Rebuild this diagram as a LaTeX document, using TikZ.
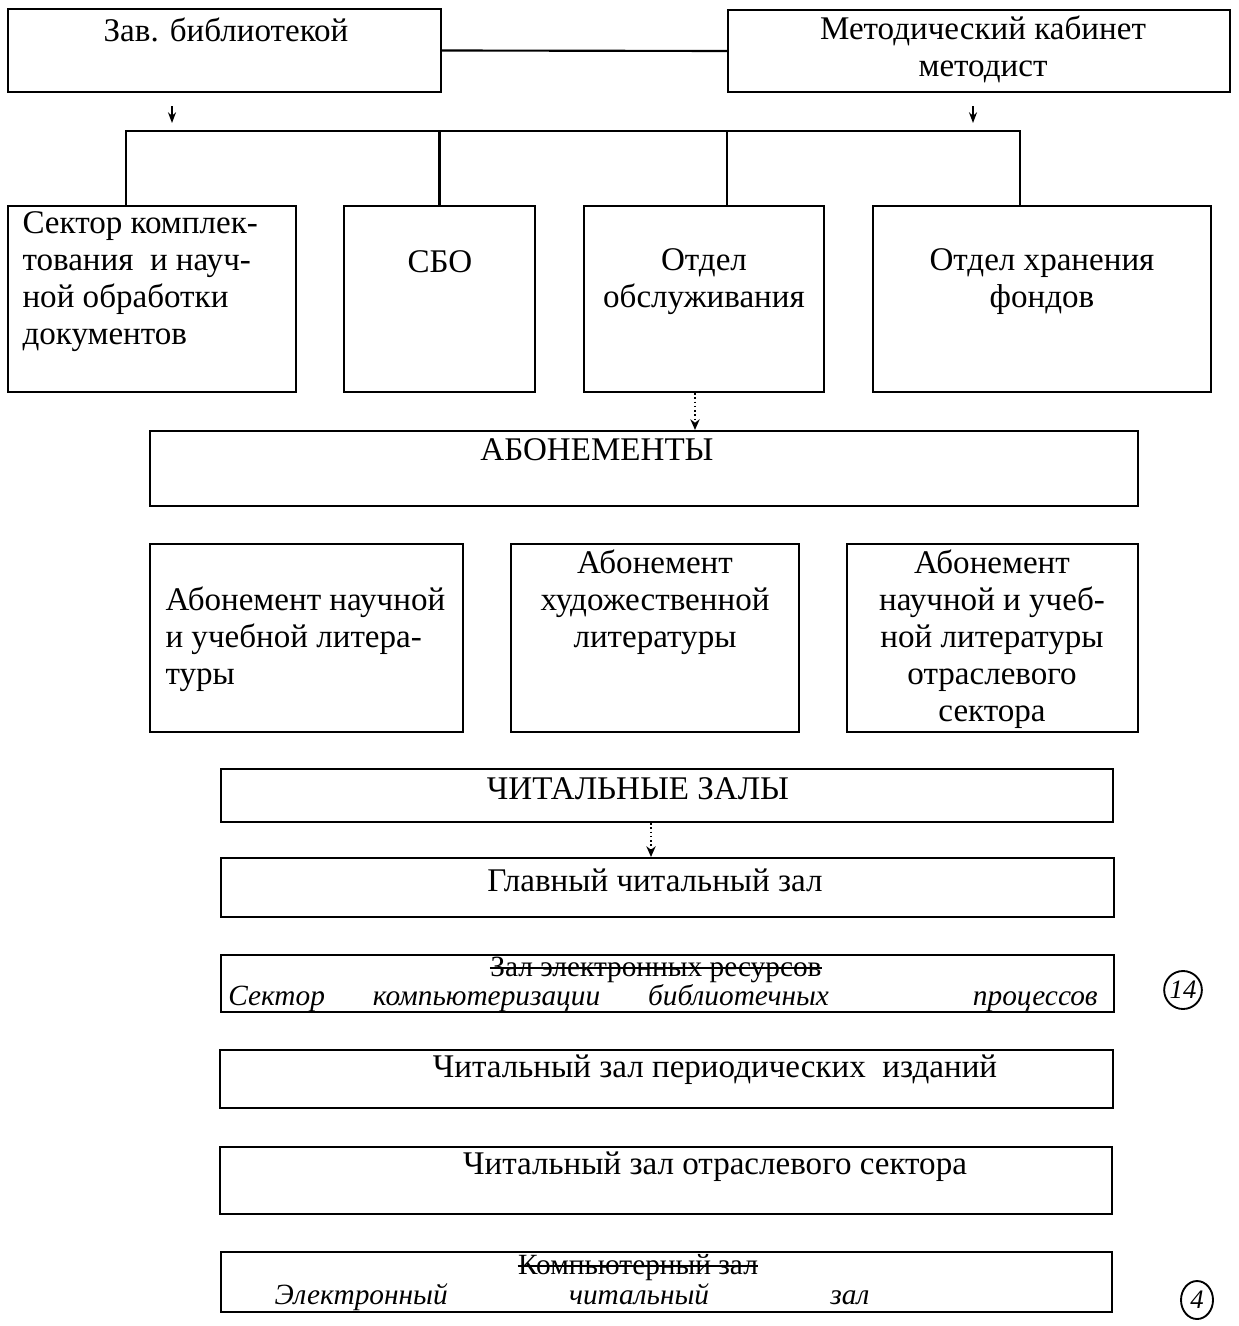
\documentclass[tikz,border=0pt]{standalone}
\usepackage{fontspec}
\setmainfont{Liberation Serif}
\usetikzlibrary{arrows.meta}
\usetikzlibrary{positioning}

\newcommand{\pxu}{0.375pt}

\tikzset{
  unitbox/.style={draw, line width=0.8pt, inner sep=0pt},
  boxsize/.style 2 args={minimum width=#1*\pxu, minimum height=#2*\pxu},
  lbl/.style={inner sep=0pt, align=center, font=\fontsize{12.4}{13.9}\selectfont},
  lblleft/.style={lbl, align=left, anchor=west},
  struck/.style={inner sep=0pt, font=\fontsize{11}{12}\selectfont},
  hand/.style={inner sep=0pt, font=\fontsize{11}{12}\selectfont\itshape},
  link/.style={line width=0.8pt},
  strike/.style={line width=0.7pt},
  smallarrow/.style={line width=0.6pt, -{Stealth[length=4pt,width=3pt]}},
  dotarrow/.style={line width=0.6pt, densely dotted, -{Stealth[length=4pt,width=3.5pt]}},
  circnum/.style={draw, ellipse, line width=0.7pt, inner sep=0pt, minimum width=32*\pxu, minimum height=38*\pxu, font=\fontsize{10}{11}\selectfont\itshape}
}
\usetikzlibrary{shapes.geometric}

\begin{document}
\begin{tikzpicture}[x=0.375pt,y=-0.375pt]
\useasboundingbox (0,0) rectangle (1238,1326);

% top level
\node[unitbox, boxsize={433}{83}] (zav) at (224.5,50.5) {};
\node[unitbox, boxsize={502}{82}] (metod) at (979,51) {};
\node[lbl] (zavt) at (226,30) {Зав. библиотекой};
\node[lbl] (metodt) at (983,49.5) {Методический кабинет\\методист};
\draw[link] (zav.east) -- (metod.west);

% departments
\node[unitbox, boxsize={288}{186}] (sektor) at (152,299) {};
\node[unitbox, boxsize={191}{186}] (sbo) at (439.5,299) {};
\node[unitbox, boxsize={240}{186}] (otdobs) at (704,299) {};
\node[unitbox, boxsize={338}{186}] (otdhr) at (1042,299) {};
\node[lblleft] (sektort) at (22,281.5) {Сектор комплек-\\тования \ и науч-\\ной обработки\\документов};
\node[lbl] (sbot) at (440,262) {СБО};
\node[lbl] (otdobst) at (704,281.5) {Отдел\\обслуживания};
\node[lbl] (otdhrt) at (1042,282) {Отдел хранения\\фондов};

\coordinate (busL) at (126,131);
\coordinate (busM) at (727,131);
\coordinate (busR) at (1020,131);
\draw[link] (sektor.north -| busL) -- (busL) -- (busR) -- (otdhr.north -| busR);
\draw[link] (sbo.north) -- (sbo.north |- busL);
\draw[link] (busM) -- (otdobs.north -| busM);
\coordinate (a1) at (172,123);
\coordinate (a2) at (973,123);
\draw[smallarrow] (zav.south -| a1) ++(0,13) -- (a1);
\draw[smallarrow] (metod.south -| a2) ++(0,13) -- (a2);

% subscriptions
\node[unitbox, boxsize={988}{75}] (abon) at (644,468.5) {};
\node[lbl] (abont) at (597,450) {АБОНЕМЕНТЫ};
\draw[dotarrow] (otdobs.south -| 695,0) -- (abon.north -| 695,0);

\node[unitbox, boxsize={313}{188}] (ab1) at (306.5,638) {};
\node[unitbox, boxsize={288}{188}] (ab2) at (655,638) {};
\node[unitbox, boxsize={291}{188}] (ab3) at (992.5,638) {};
\node[lblleft] (ab1t) at (165,639) {Абонемент научной\\и учебной литера-\\туры};
\node[lbl] (ab2t) at (655,602) {Абонемент\\художественной\\литературы};
\node[lbl] (ab3t) at (992,639.5) {Абонемент\\научной и учеб-\\ной литературы\\отраслевого\\сектора};

% reading rooms
\node[unitbox, boxsize={892}{53}] (chz) at (667,795.5) {};
\node[lbl] (chzt) at (638,789) {ЧИТАЛЬНЫЕ ЗАЛЫ};
\node[unitbox, boxsize={893}{59}] (glav) at (667.5,887.5) {};
\node[lbl] (glavt) at (655,880) {Главный читальный зал};
\draw[dotarrow] (chz.south -| 651,0) -- (glav.north -| 651,0);

\node[unitbox, boxsize={893}{57}] (elres) at (667.5,983.5) {};
\node[struck] (elrest) at (656,970) {Зал электронных ресурсов};
\draw[strike] ([yshift=0.8pt]elrest.west) -- ([yshift=0.8pt]elrest.east);
\node[hand] (elresh) at (663,998) {\makebox[326pt][s]{Сектор компьютеризации библиотечных\ \ \ процессов}};
\node[circnum] (num1) at (1183,990) {14};

\node[unitbox, boxsize={893}{58}] (period) at (666.5,1079) {};
\node[lbl] (periodt) at (715,1070) {Читальный зал периодических \ изданий};
\node[unitbox, boxsize={892}{67}] (otrsek) at (666,1180.5) {};
\node[lbl] (otrsekt) at (715,1167) {Читальный зал отраслевого сектора};

\node[unitbox, boxsize={891}{60}] (komp) at (666.5,1282) {};
\node[struck] (kompt) at (638,1268) {Компьютерный зал};
\draw[strike] ([yshift=0.8pt]kompt.west) -- ([yshift=0.8pt]kompt.east);
\node[hand] (komph) at (572,1297) {\makebox[223pt][s]{Электронный\ \ \ читальный\ \ \ зал}};
\node[circnum] (num2) at (1197,1300) {4};
\end{tikzpicture}
\end{document}
